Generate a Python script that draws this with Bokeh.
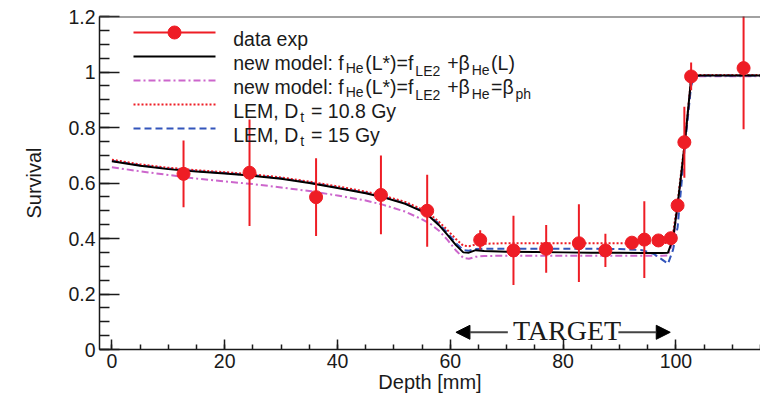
import numpy as np
from bokeh.plotting import figure
from bokeh.models import Range1d, FixedTicker, Label, Arrow, NormalHead, Span
from bokeh.embed import file_html
from bokeh.resources import INLINE

# ---- measured cell survival along depth ----
depth_exp = [12.7, 24.4, 36.2, 47.7, 55.9, 65.3, 71.2, 77.0, 82.8, 87.5,
             92.2, 94.4, 96.9, 99.1, 100.3, 101.5, 102.7, 112.0]
surv_exp = [0.633, 0.637, 0.549, 0.557, 0.500, 0.395, 0.357, 0.363, 0.383, 0.357,
            0.385, 0.396, 0.393, 0.401, 0.519, 0.747, 0.984, 1.014]
surv_err = [0.120, 0.192, 0.140, 0.142, 0.130, 0.035, 0.125, 0.086, 0.140, 0.060,
            0.020, 0.138, 0.015, 0.015, 0.020, 0.128, 0.050, 0.220]

# ---- model predictions ----
depth_model = [0, 5, 10, 15, 20, 25, 30, 35, 40, 45, 48, 52, 55, 56.5, 58, 59.5,
               61, 62.3, 63.3, 64.5, 66, 70, 75, 80, 85, 90, 94, 96, 97.5, 98.6,
               99.5, 100.3, 101.6, 102.7, 103.3, 105, 110, 115]
surv_new_model = [0.678, 0.662, 0.650, 0.641, 0.634, 0.626, 0.615, 0.600, 0.582, 0.563,
                  0.549, 0.525, 0.498, 0.476, 0.448, 0.413, 0.376, 0.350, 0.349, 0.358,
                  0.355, 0.352, 0.351, 0.350, 0.349, 0.349, 0.348, 0.348, 0.348, 0.349,
                  0.400, 0.520, 0.747, 0.976, 0.987, 0.987, 0.987, 0.987]
surv_new_model_ph = [0.657, 0.642, 0.629, 0.616, 0.606, 0.596, 0.584, 0.571, 0.555, 0.537,
                     0.522, 0.497, 0.469, 0.452, 0.428, 0.395, 0.357, 0.330, 0.327, 0.334,
                     0.337, 0.338, 0.338, 0.338, 0.338, 0.338, 0.338, 0.338, 0.338, 0.339,
                     0.390, 0.510, 0.740, 0.970, 0.985, 0.985, 0.985, 0.985]
surv_lem_108 = [0.684, 0.667, 0.655, 0.646, 0.639, 0.631, 0.620, 0.605, 0.588, 0.569,
                0.555, 0.532, 0.505, 0.486, 0.460, 0.430, 0.398, 0.374, 0.372, 0.378,
                0.381, 0.383, 0.383, 0.383, 0.383, 0.383, 0.383, 0.383, 0.383, 0.384,
                0.420, 0.530, 0.752, 0.978, 0.989, 0.989, 0.989, 0.989]
surv_lem_15 = [0.680, 0.664, 0.652, 0.643, 0.636, 0.628, 0.617, 0.602, 0.584, 0.565,
               0.551, 0.527, 0.500, 0.480, 0.453, 0.420, 0.383, 0.358, 0.356, 0.362,
               0.363, 0.363, 0.363, 0.363, 0.363, 0.362, 0.358, 0.345, 0.325, 0.309,
               0.360, 0.440, 0.735, 0.950, 0.985, 0.987, 0.987, 0.987]

# ---- axes ----
x_ticks = [0, 20, 40, 60, 80, 100]
x_tick_labels = ["0", "20", "40", "60", "80", "100"]
y_ticks = [0.0, 0.2, 0.4, 0.6, 0.8, 1.0, 1.2]
y_tick_labels = ["0", "0.2", "0.4", "0.6", "0.8", "1", "1.2"]

# target region (mm)
target_start, target_end = 61.0, 99.0

# ---- style ----
RED = "#ee1d25"
MAGENTA = "#cc66cc"
BLUE = "#3355bb"
INK = "#1a1a1a"
FONT = "Liberation Sans"
MAIN = 19.5
SUB = 14.0

X0, X1 = -2.2, 115.0
Y0, Y1 = 0.0, 1.2
FL, FR, FT, FB = 99, 760, 16, 349   # frame edges on the canvas

p = figure(width=760, height=395, x_range=Range1d(X0, X1), y_range=Range1d(Y0, Y1),
           output_backend="svg", toolbar_location=None,
           min_border_left=FL, min_border_right=760 - FR,
           min_border_top=FT, min_border_bottom=395 - FB)
p.outline_line_color = None
p.grid.visible = False
p.background_fill_color = "white"
p.border_fill_color = "white"


def data_x(px):
    return X0 + (px - FL) * (X1 - X0) / (FR - FL)


def data_y(py):
    return Y1 - (py - FT) * (Y1 - Y0) / (FB - FT)


for ax in (p.xaxis[0], p.yaxis[0]):
    ax.axis_line_color = INK
    ax.axis_line_width = 1.5
    ax.major_tick_line_color = INK
    ax.minor_tick_line_color = INK
    ax.major_tick_line_width = 1.5
    ax.minor_tick_line_width = 1.5
    ax.major_tick_out = 0
    ax.minor_tick_out = 0
    ax.major_label_text_font = FONT
    ax.major_label_text_font_size = f"{MAIN}px"
    ax.major_label_text_color = INK
    ax.axis_label_text_font = FONT
    ax.axis_label_text_font_size = "20px"
    ax.axis_label_text_font_style = "normal"
    ax.axis_label_text_color = INK

p.xaxis.ticker = FixedTicker(ticks=x_ticks, minor_ticks=list(np.arange(0, 116, 5)))
p.xaxis.major_label_overrides = dict(zip(x_ticks, x_tick_labels))
p.xaxis.major_tick_in = 10
p.xaxis.minor_tick_in = 5
p.xaxis.major_label_standoff = 4
p.xaxis.axis_label = "Depth [mm]"
p.xaxis.axis_label_standoff = 0

p.yaxis.ticker = FixedTicker(ticks=y_ticks, minor_ticks=list(np.round(np.arange(0, 1.21, 0.05), 2)))
p.yaxis.major_label_overrides = dict(zip(y_ticks, y_tick_labels))
p.yaxis.major_tick_in = 20
p.yaxis.minor_tick_in = 10
p.yaxis.major_label_standoff = 4
p.yaxis.axis_label = "Survival"
p.yaxis.axis_label_standoff = 20

# top edge of the frame
p.add_layout(Span(location=Y1, dimension="width", line_color="#444444", line_width=2))

# ---- model curves ----
p.line(depth_model, surv_new_model_ph, line_color=MAGENTA, line_width=2, line_dash="7 3 2 3")
p.line(depth_model, surv_lem_15, line_color=BLUE, line_width=2, line_dash="7 4")
p.line(depth_model, surv_lem_108, line_color=RED, line_width=2, line_dash="2 2")
p.line(depth_model, surv_new_model, line_color="black", line_width=2)

# ---- data with error bars ----
lo = [s - e for s, e in zip(surv_exp, surv_err)]
hi = [s + e for s, e in zip(surv_exp, surv_err)]
p.segment(x0=depth_exp, y0=lo, x1=depth_exp, y1=hi, line_color=RED, line_width=2)
p.scatter(depth_exp, surv_exp, size=13, marker="circle", fill_color=RED, line_color=RED)

# ---- target annotation ----
mid = 0.5 * (target_start + target_end)
arrow_y, text_y = 0.062, 0.070
for x_from, x_to in ((mid - 9.8, target_start), (mid + 9.8, target_end)):
    p.add_layout(Arrow(x_start=x_from, y_start=arrow_y, x_end=x_to, y_end=arrow_y,
                       line_color="#444444", line_width=2,
                       end=NormalHead(size=14, fill_color="black", line_color="black")))
p.add_layout(Label(x=mid, y=text_y, x_offset=4, text="TARGET", text_align="center",
                   text_baseline="alphabetic", text_font="Liberation Serif",
                   text_font_size="28px", text_color=INK))

# ---- legend with sub-scripted labels ----
ARIAL = {' ': 278, 'a': 556, 'd': 556, 't': 278, 'e': 556, 'x': 500, 'p': 556, 'n': 556,
         'w': 722, 'm': 833, 'o': 556, 'l': 222, ':': 278, 'f': 278, 'H': 722, '(': 333,
         ')': 333, 'L': 556, '*': 389, '=': 584, 'E': 667, '2': 556, '+': 584, 'β': 570,
         'M': 833, ',': 278, 'D': 722, '1': 556, '0': 556, '.': 278, '8': 556, 'G': 778,
         'y': 500, '5': 556, 'h': 556}


def text_width(s, size):
    return sum(ARIAL.get(c, 556) for c in s) / 1000.0 * size


def rich_label(runs, px, py_base):
    for text, is_sub, dy in runs:
        size = SUB if is_sub else MAIN
        if is_sub:
            px += 2
        lead = len(text) - len(text.lstrip(" "))
        px += text_width(" " * lead, size)
        body = text.lstrip(" ")
        p.add_layout(Label(x=data_x(px), y=data_y(py_base + dy), text=body,
                           text_align="left", text_baseline="alphabetic",
                           text_font=FONT, text_font_size=f"{size}px", text_color=INK))
        px += text_width(body, size)
        if is_sub:
            px += 1.5


LEG_X0, LEG_X1, LEG_MARK, LEG_TEXT = 133, 215, 174, 232.7
rows_py = [32, 56, 80, 104, 128]

legend_rows = [
    [("data exp", False, 0)],
    [("new model: f", False, 0), ("He", True, 5), ("(L*)=f", False, 0), ("LE2", True, 8),
     (" +β", False, 0), ("He", True, 6.5), ("(L)", False, 0)],
    [("new model: f", False, 0), ("He", True, 5), ("(L*)=f", False, 0), ("LE2", True, 8),
     (" +β", False, 0), ("He", True, 6.5), ("=β", False, 0), ("ph", True, 6.5)],
    [("LEM, D", False, 0), ("t", True, 5.5), (" = 10.8 Gy", False, 0)],
    [("LEM, D", False, 0), ("t", True, 5.5), (" = 15 Gy", False, 0)],
]
legend_styles = [
    dict(line_color=RED, line_width=2),
    dict(line_color="black", line_width=2),
    dict(line_color=MAGENTA, line_width=2, line_dash="7 3 2 3"),
    dict(line_color=RED, line_width=2, line_dash="2 2"),
    dict(line_color=BLUE, line_width=2, line_dash="7 4"),
]

for py, runs, style in zip(rows_py, legend_rows, legend_styles):
    yy = data_y(py)
    p.line([data_x(LEG_X0), data_x(LEG_X1)], [yy, yy], **style)
    rich_label(runs, LEG_TEXT, py + 6.5)
p.scatter([data_x(LEG_MARK)], [data_y(rows_py[0])], size=13, marker="circle",
          fill_color=RED, line_color=RED)

open("out.html", "w").write(file_html(p, INLINE))
